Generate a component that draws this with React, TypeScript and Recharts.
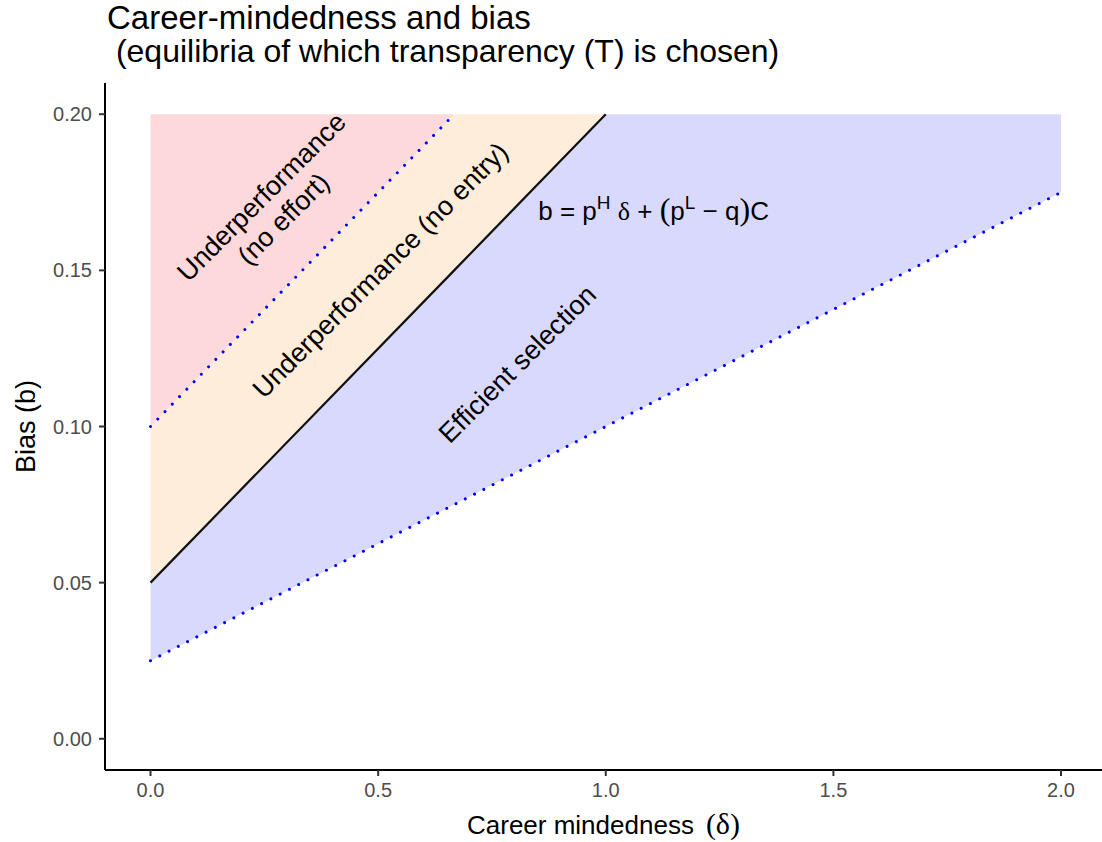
import {
  ComposedChart,
  Area,
  Line,
  XAxis,
  YAxis,
  ReferenceDot,
  Label,
} from 'recharts'

// career mindedness (delta) break points
const DELTA = [0, 0.667, 1, 2]
// boundary lines (bias b) at each delta, null where line stops
const NO_EFFORT_LINE = [0.1, 0.2, null, null]
const NO_ENTRY_LINE = [0.05, 0.15, 0.2, null]
const EFFICIENT_LINE = [0.025, 0.075, 0.1, 0.175]
const BIAS_MAX = 0.2

const X_TICKS = [0, 0.5, 1, 1.5, 2]
const Y_TICKS = [0, 0.05, 0.1, 0.15, 0.2]

const REGION_LABELS = [
  { x: 0.268, y: 0.17, lines: ['Underperformance', '(no effort)'] },
  { x: 0.505, y: 0.15, lines: ['Underperformance (no entry)'] },
  { x: 0.806, y: 0.12, lines: ['Efficient selection'] },
]
const EQUATION_POS = { x: 1.105, y: 0.169 }

const FONT = '"Liberation Sans", Arial, Helvetica, sans-serif'
const SERIF = '"Liberation Serif", "Times New Roman", serif'

const rows = DELTA.map((d, i) => ({
  delta: d,
  noEffort: NO_EFFORT_LINE[i],
  noEntry: NO_ENTRY_LINE[i],
  efficient: EFFICIENT_LINE[i],
}))

type Row = (typeof rows)[number]

const redBand = (r: Row) => (r.noEffort == null ? null : [r.noEffort, BIAS_MAX])
const orangeBand = (r: Row) =>
  r.noEntry == null ? null : [r.noEntry, r.noEffort ?? BIAS_MAX]
const blueBand = (r: Row) => [r.efficient, r.noEntry ?? BIAS_MAX]

function RotatedText({ cx, cy, lines }: { cx?: number; cy?: number; lines: string[] }) {
  if (cx == null || cy == null) return null
  const lh = 31
  const start = -((lines.length - 1) * lh) / 2
  return (
    <text
      transform={`translate(${cx},${cy}) rotate(-45)`}
      textAnchor="middle"
      fontFamily={FONT}
      fontSize={27}
      fill="#000"
    >
      {lines.map((l, i) => (
        <tspan key={i} x={0} y={start + i * lh} dominantBaseline="central">
          {l}
        </tspan>
      ))}
    </text>
  )
}

function Equation({ cx, cy }: { cx?: number; cy?: number }) {
  if (cx == null || cy == null) return null
  return (
    <text x={cx} y={cy + 9} textAnchor="middle" fontFamily={FONT} fontSize={26} fill="#000">
      b = p
      <tspan fontSize={19} dy={-11}>H</tspan>
      <tspan dy={11}> </tspan>
      <tspan fontFamily={SERIF}>δ</tspan>
      {' + '}
      <tspan fontFamily={SERIF} fontSize={32}>(</tspan>
      p<tspan fontSize={19} dy={-11}>L</tspan>
      <tspan dy={11}> − q</tspan>
      <tspan fontFamily={SERIF} fontSize={32}>)</tspan>C
    </text>
  )
}

export default function App() {
  return (
    <div style={{ position: 'absolute', left: 0, top: 0, width: 1102, height: 842, background: '#fff' }}>
      <div
        style={{
          position: 'absolute',
          left: 107,
          top: 1,
          fontFamily: FONT,
          lineHeight: '34px',
          whiteSpace: 'pre',
          color: '#000',
        }}
      >
        <div style={{ fontSize: 33 }}>Career-mindedness and bias</div>
        <div style={{ fontSize: 32, marginTop: -1 }}>{' (equilibria of which transparency (T) is chosen)'}</div>
      </div>
      <ComposedChart
        width={1102}
        height={842}
        data={rows}
        margin={{ top: 83, right: 0, bottom: 0, left: 0 }}
      >
        <XAxis
          dataKey="delta"
          type="number"
          domain={[-0.1, 2.09]}
          ticks={X_TICKS}
          allowDataOverflow
          height={72}
          tickSize={6}
          tickMargin={7}
          tickFormatter={(v: number) => v.toFixed(1)}
          tick={{ fontSize: 20, fill: '#4d4d4d', fontFamily: FONT }}
          axisLine={{ stroke: '#000', strokeWidth: 2 }}
          tickLine={{ stroke: '#333', strokeWidth: 2 }}
        >
          <Label
            content={({ viewBox }: any) => (
              <text
                x={viewBox.x + viewBox.width / 2}
                y={834}
                textAnchor="middle"
                fontFamily={FONT}
                fontSize={26}
                fill="#000"
              >
                Career mindedness
                <tspan dx={12} fontFamily={SERIF} fontSize={30}>(δ)</tspan>
              </text>
            )}
          />
        </XAxis>
        <YAxis
          type="number"
          domain={[-0.01, 0.21]}
          ticks={Y_TICKS}
          allowDataOverflow
          width={105}
          tickSize={6}
          tickMargin={7}
          tickFormatter={(v: number) => v.toFixed(2)}
          tick={{ fontSize: 20, fill: '#4d4d4d', fontFamily: FONT }}
          axisLine={{ stroke: '#000', strokeWidth: 2 }}
          tickLine={{ stroke: '#333', strokeWidth: 2 }}
        >
          <Label
            content={({ viewBox }: any) => (
              <text
                transform={`translate(35,${viewBox.y + viewBox.height / 2}) rotate(-90)`}
                textAnchor="middle"
                fontFamily={FONT}
                fontSize={27}
                fill="#000"
              >
                Bias (b)
              </text>
            )}
          />
        </YAxis>

        <Area
          dataKey={redBand as any}
          type="linear"
          stroke="none"
          fill="#fdd9db"
          fillOpacity={1}
          isAnimationActive={false}
        />
        <Area
          dataKey={orangeBand as any}
          type="linear"
          stroke="none"
          fill="#feeddb"
          fillOpacity={1}
          isAnimationActive={false}
        />
        <Area
          dataKey={blueBand as any}
          type="linear"
          stroke="none"
          fill="#d9d9fd"
          fillOpacity={1}
          isAnimationActive={false}
        />

        <Line
          dataKey="noEffort"
          type="linear"
          stroke="#0000ff"
          strokeWidth={3}
          strokeDasharray="0.01 10.4"
          strokeLinecap="round"
          dot={false}
          isAnimationActive={false}
        />
        <Line
          dataKey="efficient"
          type="linear"
          stroke="#0000ff"
          strokeWidth={3}
          strokeDasharray="0.01 10.4"
          strokeLinecap="round"
          dot={false}
          isAnimationActive={false}
        />
        <Line
          dataKey="noEntry"
          type="linear"
          stroke="#111"
          strokeWidth={2.2}
          dot={false}
          isAnimationActive={false}
        />

        {REGION_LABELS.map((l, i) => (
          <ReferenceDot
            key={i}
            x={l.x}
            y={l.y}
            r={0}
            shape={(p: any) => <RotatedText cx={p.cx} cy={p.cy} lines={l.lines} />}
          />
        ))}
        <ReferenceDot
          x={EQUATION_POS.x}
          y={EQUATION_POS.y}
          r={0}
          shape={(p: any) => <Equation cx={p.cx} cy={p.cy} />}
        />
      </ComposedChart>
    </div>
  )
}
